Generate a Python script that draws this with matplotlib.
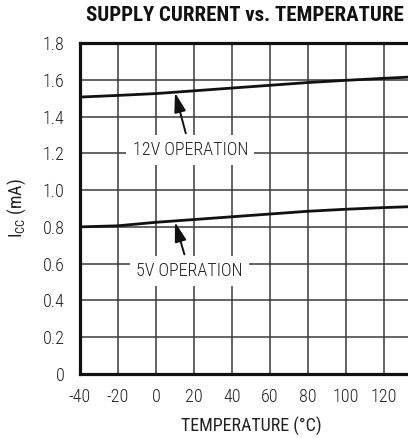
import numpy as np
import matplotlib.pyplot as plt

# values
temp = [-40, -20, 0, 20, 40, 60, 80, 100, 120, 140]
icc_12v = [1.506, 1.515, 1.525, 1.540, 1.555, 1.570, 1.585, 1.597, 1.608, 1.618]
icc_5v = [0.800, 0.806, 0.825, 0.840, 0.855, 0.870, 0.885, 0.896, 0.905, 0.912]

x_ticks = [-40, -20, 0, 20, 40, 60, 80, 100, 120]
y_ticks = [0, 0.2, 0.4, 0.6, 0.8, 1.0, 1.2, 1.4, 1.6, 1.8]
y_tick_labels = ['0', '0.2', '0.4', '0.6', '0.8', '1.0', '1.2', '1.4', '1.6', '1.8']

# condensed face like the datasheet font, with fallbacks
plt.rcParams['font.family'] = ['Roboto Condensed', 'Archivo Narrow', 'DejaVu Sans']
plt.rcParams['font.weight'] = 'light'
plt.rcParams['axes.unicode_minus'] = False

fig = plt.figure(figsize=(4.08, 4.38), dpi=100)
# the original is cut off on the right, so the axes run past the figure edge
ax = fig.add_axes([80 / 408, 64 / 438, 342 / 408, 331 / 438])

ax.plot(temp, icc_12v, color='#111111', lw=2.0, zorder=3)
ax.plot(temp, icc_5v, color='#111111', lw=2.0, zorder=3)

ax.set_xlim(-40, 140)
ax.set_ylim(0, 1.8)
ax.set_xticks(x_ticks)
ax.set_yticks(y_ticks)
ax.set_yticklabels(y_tick_labels)
ax.tick_params(axis='both', length=0, labelsize=13, colors='#222222')
ax.tick_params(axis='y', pad=11)
ax.tick_params(axis='x', pad=10)
ax.grid(True, color='#3a3a3a', lw=1.1)
ax.set_axisbelow(True)

for side in ['left', 'bottom', 'top', 'right']:
    ax.spines[side].set_linewidth(2.3)
    ax.spines[side].set_color('#111111')

box = dict(boxstyle='square,pad=0.35', fc='white', ec='none')
arrow = dict(arrowstyle='-|>,head_length=0.9,head_width=0.27',
             color='#111111', lw=1.4, shrinkA=1, shrinkB=0)
ax.annotate('12V OPERATION', xy=(10, 1.53), xytext=(18, 1.218),
            ha='center', va='center', fontsize=13, color='#222222',
            bbox=box, arrowprops=arrow)
ax.annotate('5V OPERATION', xy=(10, 0.826), xytext=(17.5, 0.56),
            ha='center', va='center', fontsize=13, color='#222222',
            bbox=box, arrowprops=arrow)

ax.set_xlabel('TEMPERATURE (°C)', fontsize=13, color='#222222', labelpad=8)
ax.set_ylabel(r'I$_{\mathregular{CC}}$ (mA)', fontsize=13, color='#222222')
ax.yaxis.set_label_coords(-0.152, 0.5)

fig.text(245 / 408, 1 - 15.5 / 438, 'SUPPLY CURRENT vs. TEMPERATURE',
         ha='center', va='center', fontsize=15, fontweight='bold', color='#111111')

fig.savefig('out.png', dpi=100)
